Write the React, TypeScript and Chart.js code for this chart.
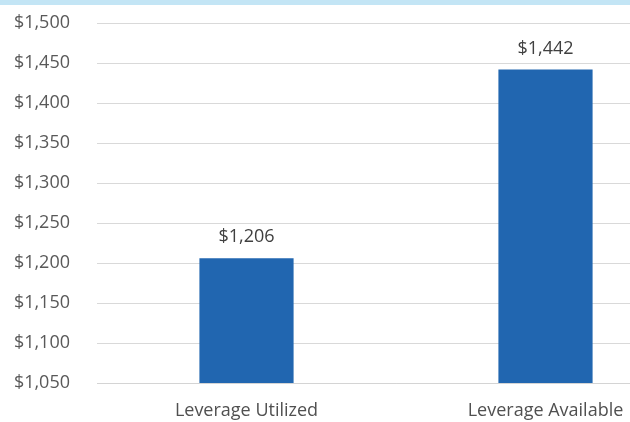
import React, { useEffect, useRef } from "react";
import { Chart, registerables } from "chart.js";

Chart.register(...registerables);

const categories = ["Leverage Utilized", "Leverage Available"];
const values = [1206, 1442];
const yMin = 1050;
const yMax = 1500;
const yStep = 50;

const fmt = (v: number) => "$" + v.toLocaleString("en-US");

const valueLabels = {
  id: "valueLabels",
  afterDatasetsDraw(chart: any) {
    const ctx = chart.ctx;
    const meta = chart.getDatasetMeta(0);
    ctx.save();
    ctx.font = "18px 'Open Sans'";
    ctx.fillStyle = "#404040";
    ctx.textAlign = "center";
    ctx.textBaseline = "middle";
    meta.data.forEach((bar: any, i: number) => {
      ctx.fillText(fmt(values[i]), bar.x, bar.y - 21);
    });
    ctx.restore();
  },
};

export default function App() {
  const ref = useRef<HTMLCanvasElement>(null);
  useEffect(() => {
    const chart = new Chart(ref.current!, {
      type: "bar",
      data: {
        labels: categories,
        datasets: [
          {
            data: values,
            backgroundColor: "#2166b0",
            categoryPercentage: 1,
            barPercentage: 0.315,
          },
        ],
      },
      options: {
        animation: false,
        responsive: false,
        maintainAspectRatio: false,
        layout: { padding: { top: 23, right: 5, left: 0, bottom: 0 } },
        plugins: { legend: { display: false }, tooltip: { enabled: false } },
        scales: {
          x: {
            grid: { display: false, drawTicks: false },
            border: { display: true, color: "#d4d4d4", width: 1 },
            ticks: {
              color: "#505050",
              font: { family: "'Open Sans'", size: 18 },
              padding: 17,
            },
            afterFit: (s: any) => {
              s.height = 39;
              s.paddingLeft = 0;
              s.paddingRight = 0;
            },
          },
          y: {
            min: yMin,
            max: yMax,
            grid: { color: "#d9d9d9", lineWidth: 1, drawTicks: false },
            border: { display: false },
            ticks: {
              stepSize: yStep,
              color: "#595959",
              font: { family: "'Open Sans'", size: 18 },
              padding: 27,
              callback: (v: any) => fmt(Number(v)),
            },
            afterFit: (s: any) => {
              s.width = 97;
              s.paddingTop = 0;
              s.paddingBottom = 0;
            },
          },
        },
      },
      plugins: [valueLabels],
    });
    return () => chart.destroy();
  }, []);
  return (
    <div
      style={{
        position: "fixed",
        left: 0,
        top: 0,
        width: 630,
        height: 422,
        overflow: "hidden",
        background: "#ffffff",
      }}
    >
      <canvas ref={ref} width={700} height={422} style={{ display: "block" }} />
      <div
        style={{
          position: "absolute",
          left: 0,
          top: 0,
          width: 630,
          height: 5,
          background: "#c3e5f5",
        }}
      />
    </div>
  );
}
